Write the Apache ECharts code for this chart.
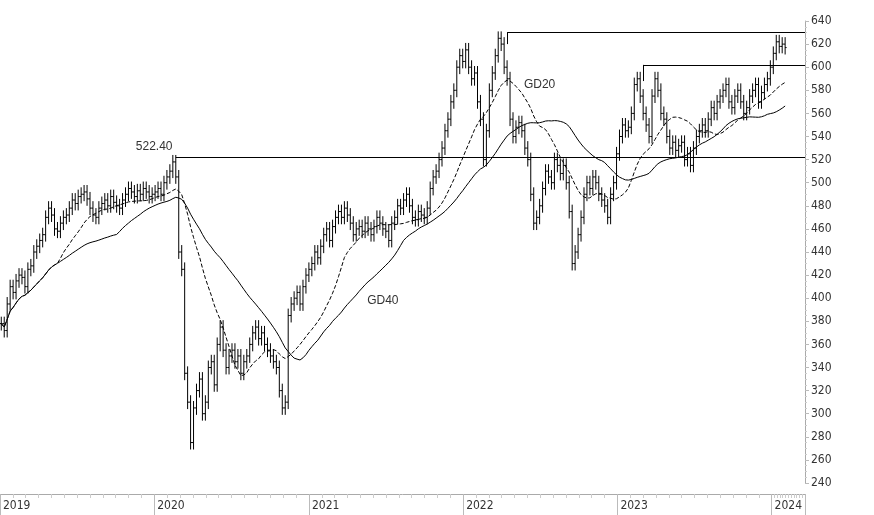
<!DOCTYPE html>
<html>
<head>
<meta charset="utf-8">
<script src="https://cdn.jsdelivr.net/npm/echarts@6/dist/echarts.min.js"></script>
<style>html,body{margin:0;padding:0;background:#fff}#chart{width:874px;height:515px}</style>
</head>
<body>
<div id="chart"></div>
<script>
// weekly closes, first week 2019-01-04
var closes = [
  378,372,395,410,405,415,420,418,410,425,428,440,445,
  450,455,470,478,472,460,458,465,470,472,478,485,482,
  488,490,492,486,478,472,470,478,482,485,480,488,483,
  480,478,485,490,495,492,488,493,490,495,492,488,490,
  492,495,490,500,505,510,518,505,440,425,335,310,275,
  305,320,330,300,310,340,345,325,360,375,355,340,350,
  355,345,350,335,345,350,360,370,375,365,370,360,355,
  350,345,340,320,305,310,385,395,400,405,395,410,420,
  425,430,440,435,445,455,460,450,462,470,475,470,478,
  472,465,455,460,462,458,465,460,455,462,470,465,460,
  458,450,465,470,480,478,485,490,480,470,468,475,472,
  470,478,495,505,510,520,530,545,555,570,580,600,610,
  605,615,600,590,595,570,555,520,545,580,595,610,625,
  620,600,590,555,540,548,552,545,530,520,490,465,470,
  480,495,510,505,500,520,515,508,515,500,475,430,440,
  455,470,490,500,495,505,500,490,485,480,470,490,500,
  525,540,550,545,548,560,585,590,575,560,550,540,575,
  590,580,560,555,540,530,535,528,532,535,520,525,515,
  530,540,545,550,545,555,565,560,570,575,580,585,570,
  565,575,580,570,560,565,575,580,585,570,578,585,590,
  600,612,622,618,620,617
];
var startDate = Date.UTC(2019, 0, 4);
var week = 7 * 86400000;
var peak2020 = 522.4;
var top2022 = 630;
var top2023 = 602;

var dates = closes.map(function (c, i) { return startDate + i * week; });
var bars = closes.map(function (c, i) {
    var o = i > 0 ? closes[i - 1] : c;
    return [dates[i], o, c, Math.min(o, c) - 6, Math.max(o, c) + 6];
});
function ma(n) {
    return closes.map(function (c, i) {
        var s = 0, k = 0;
        for (var j = Math.max(0, i - n + 1); j <= i; j++) { s += closes[j]; k++; }
        return [dates[i], +(s / k).toFixed(2)];
    });
}
var endDate = '2024-03-20';

var chart = echarts.init(document.getElementById('chart'));
var option = {
    animation: false,
    grid: {left: 0, right: 69, top: 21, bottom: 32},
    xAxis: {
        type: 'time', min: '2019-01-01', max: endDate, offset: 11,
        splitNumber: 6, minInterval: 365 * 86400000,
        axisLine: {lineStyle: {color: '#aaa'}},
        axisTick: {length: 22, lineStyle: {color: '#bbb'}},
        minorTick: {show: true, splitNumber: 12, length: 4, lineStyle: {color: '#ccc'}},
        axisLabel: {formatter: '{yyyy}', align: 'left', color: '#333', fontSize: 12, margin: 6, padding: [0, 0, 0, 3], fontFamily: 'DejaVu Sans Condensed, Liberation Sans'},
        splitLine: {show: false}
    },
    yAxis: {
        type: 'value', position: 'right', min: 240, max: 640, interval: 20,
        axisLine: {show: true, lineStyle: {color: '#aaa'}},
        axisTick: {show: true, length: 4, lineStyle: {color: '#bbb'}},
        minorTick: {show: true, splitNumber: 4, length: 2, lineStyle: {color: '#ccc'}},
        axisLabel: {color: '#333', fontSize: 12, margin: 6, fontFamily: 'DejaVu Sans Condensed, Liberation Sans'},
        splitLine: {show: false}
    },
    series: [
        {
            type: 'custom', data: bars, encode: {x: 0, y: [1, 2, 3, 4]}, clip: true,
            renderItem: function (params, api) {
                var t = api.value(0);
                var o = api.coord([t, api.value(1)]);
                var c = api.coord([t, api.value(2)]);
                var l = api.coord([t, api.value(3)]);
                var h = api.coord([t, api.value(4)]);
                var st = {stroke: '#000', lineWidth: 1};
                return {type: 'group', children: [
                    {type: 'line', shape: {x1: h[0], y1: h[1], x2: l[0], y2: l[1]}, style: st},
                    {type: 'line', shape: {x1: o[0] - 1.5, y1: o[1], x2: o[0], y2: o[1]}, style: st},
                    {type: 'line', shape: {x1: c[0], y1: c[1], x2: c[0] + 1.5, y2: c[1]}, style: st}
                ]};
            }
        },
        {
            type: 'line', data: ma(20), symbol: 'none', lineStyle: {color: '#000', width: 1, type: 'dashed'},
            markPoint: {symbol: 'circle', symbolSize: 0, data: [
                {coord: [dates[171] + 4 * week, 585], label: {show: true, formatter: 'GD20', position: 'right', color: '#333', fontSize: 12}}
            ]}
        },
        {
            type: 'line', data: ma(40), symbol: 'none', lineStyle: {color: '#000', width: 1},
            markPoint: {symbol: 'circle', symbolSize: 0, data: [
                {coord: [dates[122], 398], label: {show: true, formatter: 'GD40', position: 'right', color: '#333', fontSize: 12}},
                {coord: [dates[59], peak2020], label: {show: true, formatter: peak2020.toFixed(2), position: [-40, -16], color: '#333', fontSize: 12}}
            ]},
            markLine: {symbol: 'none', silent: true, lineStyle: {color: '#000', width: 1, type: 'solid'}, label: {show: false}, data: [
                [{coord: [dates[59], peak2020]}, {coord: [endDate, peak2020]}],
                [{coord: [dates[171], 620]}, {coord: [dates[171], top2022]}],
                [{coord: [dates[171], top2022]}, {coord: [endDate, top2022]}],
                [{coord: [dates[217], 588]}, {coord: [dates[217], top2023]}],
                [{coord: [dates[217], top2023]}, {coord: [endDate, top2023]}]
            ]}
        }
    ]
};
chart.setOption(option);
</script>
</body>
</html>
